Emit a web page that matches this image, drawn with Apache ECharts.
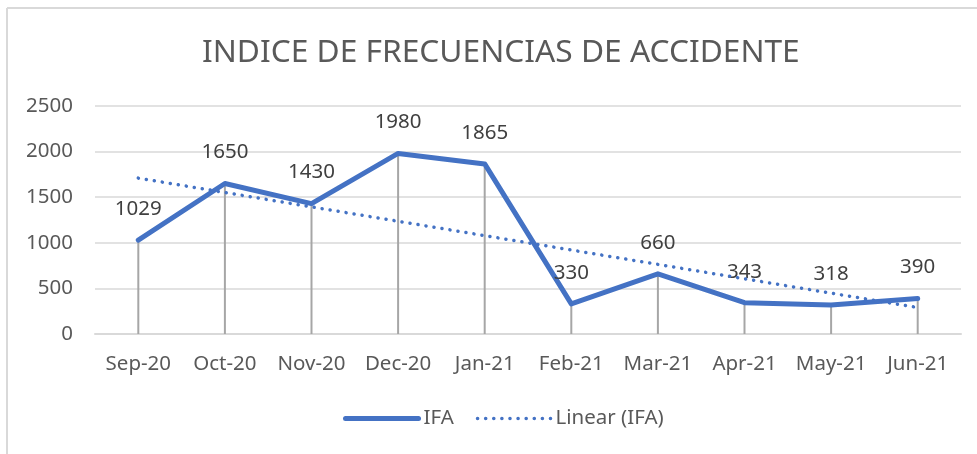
<!DOCTYPE html>
<html>
<head>
<meta charset="utf-8">
<script src="https://cdn.jsdelivr.net/npm/echarts@6/dist/echarts.min.js"></script>
<style>
  html, body { margin: 0; padding: 0; background: #fff; }
  #chart { width: 977px; height: 454px; }
</style>
</head>
<body>
<div id="chart"></div>
<script>
// meses y valores del IFA
var months = ['Sep-20', 'Oct-20', 'Nov-20', 'Dec-20', 'Jan-21', 'Feb-21', 'Mar-21', 'Apr-21', 'May-21', 'Jun-21']
var ifaValues = [1029, 1650, 1430, 1980, 1865, 330, 660, 343, 318, 390]
// linea de tendencia: valor inicial y final
var trendStart = 1709
var trendEnd = 290
var yTicks = [0, 500, 1000, 1500, 2000, 2500]

var trendData = months.map(function (m, i) {
  if (i === 0) return trendStart
  if (i === months.length - 1) return trendEnd
  return '-'
})

var font = '"Noto Sans", sans-serif'
var chart = echarts.init(document.getElementById('chart'), null, { renderer: 'canvas' })

var option = {
  animation: false,
  backgroundColor: '#fff',
  title: {
    text: 'INDICE DE FRECUENCIAS DE ACCIDENTE',
    left: 197,
    top: 32,
    textStyle: {
      fontFamily: font,
      fontWeight: 'normal',
      fontSize: 31.7,
      color: '#595959'
    }
  },
  grid: {
    left: 95,
    right: 16,
    top: 106,
    bottom: 120
  },
  legend: {
    bottom: 20,
    left: 338,
    itemWidth: 73,
    itemHeight: 10,
    itemGap: 22,
    textStyle: { fontFamily: font, fontSize: 20.5, color: '#595959' },
    itemStyle: { opacity: 0 },
    data: [
      { name: 'IFA', lineStyle: { width: 5, cap: 'round' } },
      { name: 'Linear (IFA)', lineStyle: { width: 3.5, cap: 'round' } }
    ]
  },
  xAxis: {
    type: 'category',
    data: months,
    boundaryGap: true,
    axisLine: { show: true, lineStyle: { color: '#d9d9d9', width: 2 } },
    axisTick: { show: false },
    axisLabel: {
      fontFamily: font,
      fontSize: 20.5,
      color: '#595959',
      margin: 20,
      interval: 0
    }
  },
  yAxis: {
    type: 'value',
    min: yTicks[0],
    max: yTicks[yTicks.length - 1],
    interval: 500,
    axisLine: { show: false },
    axisTick: { show: false },
    splitLine: { lineStyle: { color: '#d9d9d9', width: 1.5 } },
    axisLabel: {
      fontFamily: font,
      fontSize: 20.5,
      color: '#595959',
      margin: 22,
      formatter: function (v) { return String(v) }
    }
  },
  series: [
    {
      // lineas de caida (drop lines)
      name: 'drop',
      type: 'bar',
      data: ifaValues,
      barWidth: 2,
      itemStyle: { color: '#a6a6a6' },
      silent: true,
      z: 1
    },
    {
      name: 'IFA',
      type: 'line',
      data: ifaValues,
      symbol: 'circle',
      symbolSize: 1,
      showSymbol: true,
      lineStyle: { color: '#4472c4', width: 5, cap: 'round', join: 'round' },
      itemStyle: { color: '#4472c4' },
      label: {
        show: true,
        position: 'top',
        distance: 20,
        fontFamily: font,
        fontSize: 20.5,
        color: '#404040'
      },
      z: 3
    },
    {
      name: 'Linear (IFA)',
      type: 'line',
      data: trendData,
      connectNulls: true,
      symbol: 'none',
      lineStyle: { color: '#4472c4', width: 3.5, type: [0.1, 8], cap: 'round' },
      itemStyle: { color: '#4472c4' },
      z: 4
    }
  ],
  graphic: [
    { type: 'line', shape: { x1: 7, y1: 8, x2: 977, y2: 8 }, style: { stroke: '#d9d9d9', lineWidth: 2 } },
    { type: 'line', shape: { x1: 7, y1: 8, x2: 7, y2: 454 }, style: { stroke: '#d9d9d9', lineWidth: 2 } }
  ]
}

chart.setOption(option)
</script>
</body>
</html>
